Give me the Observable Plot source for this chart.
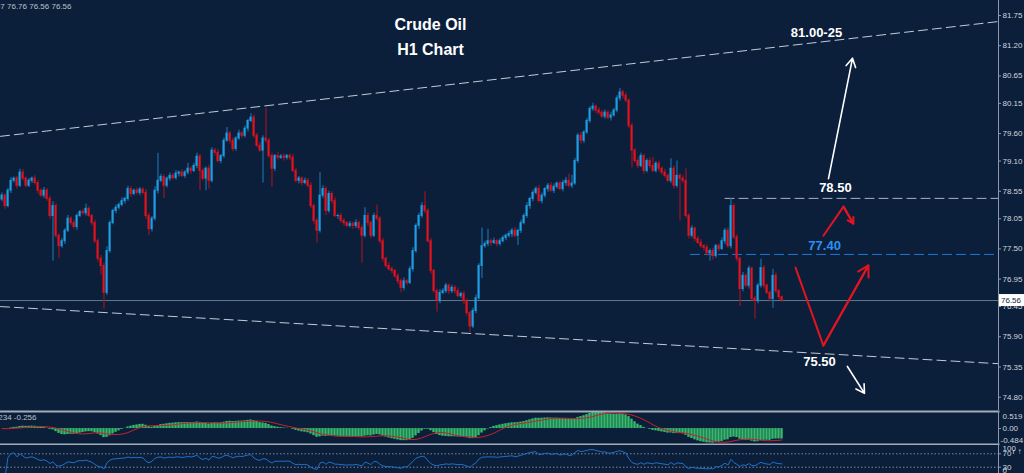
<!DOCTYPE html>
<html><head><meta charset="utf-8">
<script src="https://cdn.jsdelivr.net/npm/d3@7"></script>
<script src="https://cdn.jsdelivr.net/npm/@observablehq/plot@0.6"></script>
<style>
html,body{margin:0;padding:0;background:#0b1f3b;width:1024px;height:473px;overflow:hidden;}
#wrap{position:relative;width:1024px;height:473px;background:#0b1f3b;}
#wrap > svg{position:absolute;left:0;display:block;overflow:hidden;}
</style></head><body><div id="wrap"></div>
<script>
// ---------- DATA (H1 candles) ----------
const firstOpen = 78.40;
const closes = [
78.47,78.28,78.56,78.74,78.78,78.65,78.89,78.78,78.65,78.74,
78.78,78.70,78.56,78.47,78.56,78.41,78.10,78.28,77.74,77.55,
77.64,77.83,78.05,77.97,77.90,78.10,78.17,78.15,78.23,78.10,
77.97,77.64,77.32,77.19,76.70,77.46,77.97,78.19,78.25,78.30,
78.37,78.41,78.59,78.50,78.56,78.52,78.58,78.52,78.10,77.86,
78.05,78.56,78.74,78.81,78.65,78.78,78.83,78.79,78.87,78.89,
78.83,78.89,78.96,78.92,79.01,79.18,78.92,78.78,78.96,78.74,
79.29,79.25,79.10,79.19,79.47,79.60,79.47,79.32,79.51,79.60,
79.56,79.69,79.83,79.89,79.56,79.38,79.29,79.51,79.47,79.19,
78.96,79.19,79.16,79.18,79.16,79.19,79.16,78.92,78.74,78.78,
78.70,78.74,78.65,78.28,78.01,77.83,78.47,78.59,78.19,78.50,
78.37,78.10,78.10,78.01,77.97,77.92,77.95,77.92,77.97,77.88,
77.74,78.10,77.97,77.74,78.10,78.05,77.64,77.32,77.19,77.13,
77.10,77.00,76.91,76.79,76.91,76.88,77.13,77.46,77.92,78.10,
78.28,78.19,77.64,77.10,76.73,76.55,76.70,76.73,76.83,76.73,
76.79,76.73,76.64,76.68,76.55,76.33,76.09,76.37,76.60,77.19,
77.55,77.59,77.64,77.61,77.64,77.59,77.64,77.70,77.74,77.77,
77.83,77.74,77.83,77.97,78.10,78.28,78.41,78.52,78.59,78.37,
78.47,78.59,78.65,78.56,78.63,78.69,78.59,78.70,78.74,78.65,
78.69,79.10,79.56,79.47,79.62,79.83,80.05,80.09,80.02,79.98,
79.91,79.98,79.89,79.93,80.02,80.24,80.35,80.29,80.20,79.74,
79.29,79.10,79.01,79.19,78.92,79.10,79.01,78.92,79.05,78.96,
78.89,78.83,78.74,78.96,78.65,78.83,78.78,78.74,78.10,77.74,
77.87,77.68,77.61,77.55,77.52,77.42,77.46,77.37,77.55,77.50,
77.64,77.83,77.55,78.28,77.71,77.32,76.77,77.01,76.83,77.14,
76.59,76.55,76.83,77.15,76.83,76.70,76.59,77.01,76.73,76.62,
76.56];
const wickUp = [
0.05,0.03,0.04,0.06,0.03,0.04,0.06,0.05,0.03,0.04,
0.03,0.05,0.04,0.03,0.06,0.04,0.05,0.08,0.04,0.03,
0.05,0.04,0.06,0.03,0.05,0.04,0.03,0.05,0.09,0.04,
0.03,0.05,0.04,0.06,0.05,0.08,0.04,0.03,0.05,0.04,
0.06,0.03,0.05,0.04,0.03,0.05,0.04,0.03,0.06,0.05,
0.04,0.07,0.50,0.05,0.04,0.03,0.05,0.04,0.06,0.03,
0.05,0.04,0.10,0.03,0.05,0.06,0.04,0.05,0.03,0.06,
0.05,0.04,0.06,0.03,0.05,0.11,0.04,0.05,0.03,0.06,
0.04,0.05,0.03,0.07,0.05,0.04,0.06,0.05,0.55,0.04,
0.05,0.03,0.06,0.04,0.05,0.03,0.04,0.06,0.05,0.04,
0.03,0.05,0.04,0.06,0.04,0.05,0.42,0.06,0.04,0.05,
0.04,0.06,0.03,0.05,0.04,0.03,0.05,0.04,0.06,0.04,
0.05,0.15,0.06,0.04,0.05,0.20,0.04,0.05,0.03,0.06,
0.04,0.03,0.05,0.04,0.06,0.03,0.05,0.06,0.04,0.05,
0.06,0.26,0.04,0.05,0.03,0.04,0.06,0.05,0.04,0.03,
0.05,0.04,0.06,0.03,0.05,0.04,0.03,0.05,0.06,0.04,
0.33,0.05,0.22,0.04,0.06,0.03,0.05,0.04,0.03,0.05,
0.04,0.06,0.03,0.05,0.04,0.06,0.03,0.05,0.04,0.06,
0.05,0.03,0.04,0.06,0.05,0.03,0.04,0.05,0.06,0.12,
0.15,0.05,0.04,0.06,0.03,0.05,0.04,0.06,0.03,0.05,
0.04,0.05,0.03,0.06,0.04,0.05,0.07,0.04,0.05,0.03,
0.05,0.04,0.06,0.05,0.03,0.04,0.06,0.15,0.04,0.05,
0.03,0.06,0.04,0.18,0.05,0.27,0.04,0.05,0.22,0.04,
0.05,0.03,0.04,0.06,0.03,0.05,0.04,0.05,0.03,0.04,
0.06,0.04,0.05,0.14,0.04,0.05,0.03,0.06,0.04,0.05,
0.03,0.05,0.04,0.16,0.05,0.03,0.04,0.12,0.05,0.03,
0.02];
const wickDown = [
0.04,0.06,0.03,0.05,0.04,0.06,0.03,0.05,0.04,0.03,
0.05,0.04,0.06,0.03,0.05,0.04,0.06,0.82,0.05,0.22,
0.04,0.06,0.03,0.05,0.04,0.06,0.03,0.04,0.05,0.03,
0.05,0.04,0.06,0.16,0.30,0.05,0.04,0.03,0.05,0.04,
0.03,0.05,0.04,0.06,0.03,0.04,0.05,0.03,0.06,0.12,
0.05,0.04,0.06,0.03,0.23,0.04,0.05,0.03,0.04,0.06,
0.03,0.05,0.04,0.06,0.03,0.05,0.36,0.04,0.22,0.15,
0.04,0.06,0.03,0.05,0.04,0.03,0.06,0.05,0.04,0.03,
0.05,0.04,0.06,0.03,0.05,0.04,0.03,0.59,0.05,0.04,
0.33,0.05,0.04,0.03,0.06,0.04,0.05,0.03,0.04,0.06,
0.05,0.03,0.04,0.05,0.06,0.22,0.04,0.05,0.08,0.04,
0.05,0.03,0.06,0.04,0.05,0.03,0.04,0.06,0.05,0.04,
0.50,0.04,0.06,0.05,0.03,0.04,0.05,0.06,0.04,0.03,
0.05,0.04,0.06,0.09,0.05,0.04,0.03,0.05,0.04,0.06,
0.04,0.05,0.03,0.06,0.04,0.20,0.05,0.03,0.04,0.06,
0.04,0.05,0.03,0.04,0.06,0.05,0.11,0.04,0.05,0.03,
0.23,0.04,0.05,0.06,0.03,0.05,0.04,0.03,0.05,0.04,
0.06,0.04,0.18,0.05,0.03,0.04,0.06,0.05,0.04,0.03,
0.05,0.04,0.06,0.03,0.05,0.04,0.03,0.05,0.06,0.04,
0.05,0.03,0.04,0.06,0.05,0.03,0.04,0.05,0.06,0.04,
0.03,0.05,0.04,0.06,0.03,0.04,0.05,0.06,0.04,0.05,
0.31,0.04,0.05,0.03,0.06,0.04,0.05,0.03,0.04,0.06,
0.05,0.04,0.03,0.05,0.06,0.04,0.77,0.05,0.04,0.06,
0.04,0.05,0.03,0.04,0.06,0.05,0.14,0.07,0.04,0.05,
0.03,0.06,0.04,0.05,0.04,0.06,0.32,0.05,0.04,0.06,
0.04,0.33,0.05,0.04,0.06,0.03,0.05,0.17,0.04,0.05,
0.03];
const lastPrice = 76.56;
const priceTicks = [81.75,81.20,80.65,80.15,79.60,79.10,78.55,78.05,77.50,76.95,76.45,75.90,75.35,74.80];
const macdMax = 0.519, macdMin = -0.484;   // MACD window scale labels
const rsiLevels = [70, 30];
const ohlcText = "76.67 76.76 76.56 76.56";
const macdText = "MACD(12,26,9) -0.234 -0.256";
const titleLines = ["Crude Oil", "H1 Chart"];

// annotations (bar index, price)
const upperChannel = [{i:-0.5,p:79.55},{i:332.17,p:81.64}];
const lowerChannel = [{i:-0.5,p:76.45},{i:332.17,p:75.41}];
const level7850 = [{i:241,p:78.42},{i:332.17,p:78.42}];
const level7740 = [{i:229.5,p:77.40},{i:332.17,p:77.40}];
const whiteLabels = [{i:271.5,p:81.44,t:"81.00-25"},{i:277.8,p:78.61,t:"78.50"},{i:272.5,p:75.44,t:"75.50"}];
const blueLabels = [{i:274.2,p:77.56,t:"77.40"}];
const whiteArrows = [{i1:275.5,p1:78.78,i2:283.5,p2:80.97},{i1:281.8,p1:75.36,i2:287.5,p2:74.87}];
const redPathA = [{i:273.8,p:77.74},{i:280.5,p:78.27},{i:283.8,p:77.96}];
const redPathB = [{i:264.5,p:77.16},{i:273.8,p:75.74},{i:288.8,p:77.20}];

// ---------- derived ----------
const bars = closes.map((c,i)=>{
  const o = i ? closes[i-1] : firstOpen;
  return {i, o, c, h: Math.max(o,c)+wickUp[i], l: Math.min(o,c)-wickDown[i], up: c >= o};
});
const upBars = bars.filter(d=>d.up), dnBars = bars.filter(d=>!d.up);
// MACD(12,26,9): main = EMA12-EMA26, signal = SMA9 of main
const emaOf = (arr,n)=>{const k=2/(n+1); let e=arr[0]; return arr.map(v=>(e+=k*(v-e)));};
const e12 = emaOf(closes,12), e26 = emaOf(closes,26);
const macdMain = closes.map((_,i)=>e12[i]-e26[i]);
const macd = macdMain.map((m,i)=>({i, m, s: d3.mean(macdMain.slice(Math.max(0,i-8), i+1))}));
// RSI(14)
const diffs = closes.map((c,i)=> i ? c-closes[i-1] : 0);
let ag=0, al=0;
const rsi = [];
for (let i=1;i<closes.length;i++){
  const g=Math.max(diffs[i],0), l=Math.max(-diffs[i],0);
  if (i<=14){ ag=(ag*(i-1)+g)/i; al=(al*(i-1)+l)/i; }
  else { ag=(ag*13+g)/14; al=(al*13+l)/14; }
  rsi.push({i, r: al===0 ? 100 : 100-100/(1+ag/al)});
}

// ---------- drawing ----------
const W = 1024, MR = 26, XD = [-0.5, 332.17];
const FONT = "'Liberation Sans', Arial, sans-serif";
const TXT = "#cfd6df", AXC = "#8d99a8";
const baseStyle = {background:"transparent", color:TXT, fontFamily:FONT, fontSize:"8px", overflow:"hidden"};
const UPC="#1e9fe3", DNC="#e5121e", UPW="#1a6ea8", DNW="#9a1424";

const pricePlot = Plot.plot({
  width:W, height:410, marginLeft:0, marginRight:MR, marginTop:0, marginBottom:0,
  style: baseStyle,
  x:{domain:XD, axis:null},
  y:{domain:[74.558, 82.023], axis:null},
  marks:[
    Plot.line(upperChannel,{x:"i",y:"p",stroke:"#c3cbd5",strokeWidth:1,strokeDasharray:"9,5"}),
    Plot.line(lowerChannel,{x:"i",y:"p",stroke:"#c3cbd5",strokeWidth:1,strokeDasharray:"9,5"}),
    Plot.line(level7850,{x:"i",y:"p",stroke:"#aab3bf",strokeWidth:1,strokeDasharray:"9,5"}),
    Plot.line(level7740,{x:"i",y:"p",stroke:"#1f78d6",strokeWidth:1,strokeDasharray:"9,5"}),
    Plot.ruleY([lastPrice],{stroke:"#66778b",strokeWidth:1}),
    Plot.ruleX(upBars,{x:"i",y1:"l",y2:"h",stroke:UPW,strokeWidth:1.2}),
    Plot.ruleX(dnBars,{x:"i",y1:"l",y2:"h",stroke:DNW,strokeWidth:1.2}),
    Plot.rect(upBars,{x1:d=>d.i-0.34,x2:d=>d.i+0.34,y1:"o",y2:"c",fill:UPC,insetTop:-0.5,insetBottom:-0.5}),
    Plot.rect(dnBars,{x1:d=>d.i-0.34,x2:d=>d.i+0.34,y1:"o",y2:"c",fill:DNC,insetTop:-0.5,insetBottom:-0.5}),
    Plot.arrow(whiteArrows,{x1:"i1",y1:"p1",x2:"i2",y2:"p2",stroke:"#ffffff",strokeWidth:1.6,headLength:9}),
    Plot.line(redPathA,{x:"i",y:"p",stroke:"#e3141f",strokeWidth:2}),
    Plot.arrow([{a:redPathA[1],b:redPathA[2]}],{x1:d=>d.a.i,y1:d=>d.a.p,x2:d=>d.b.i,y2:d=>d.b.p,stroke:"#e3141f",strokeWidth:2,headLength:9}),
    Plot.line(redPathB,{x:"i",y:"p",stroke:"#e3141f",strokeWidth:2}),
    Plot.arrow([{a:redPathB[1],b:redPathB[2]}],{x1:d=>d.a.i,y1:d=>d.a.p,x2:d=>d.b.i,y2:d=>d.b.p,stroke:"#e3141f",strokeWidth:2,headLength:9}),
    Plot.text(whiteLabels,{x:"i",y:"p",text:"t",fill:"#ffffff",fontWeight:"bold",fontSize:13}),
    Plot.text(blueLabels,{x:"i",y:"p",text:"t",fill:"#2b8ff0",fontWeight:"bold",fontSize:13}),
    Plot.text([titleLines[0]],{frameAnchor:"top",dx:-69,dy:24,lineAnchor:"middle",fill:"#ffffff",fontWeight:"bold",fontSize:16}),
    Plot.text([titleLines[1]],{frameAnchor:"top",dx:-69,dy:49,lineAnchor:"middle",fill:"#ffffff",fontWeight:"bold",fontSize:16}),
    Plot.text([ohlcText],{frameAnchor:"top-left",textAnchor:"end",dx:71,dy:6,lineAnchor:"middle",fill:"#b9c1cc",fontSize:8}),
    Plot.frame({anchor:"right",stroke:AXC}),
    Plot.axisY(priceTicks,{anchor:"right",tickSize:2,tickPadding:2,tickFormat:d=>d.toFixed(2),stroke:AXC,fill:TXT})
  ]
});
pricePlot.style.top = "0px";

// current price label box on the axis (placed through the plot's y scale)
{
  const yy = pricePlot.scale("y").apply(lastPrice);
  const g = d3.select(pricePlot).append("g");
  g.append("rect").attr("x",999).attr("y",yy-6).attr("width",25).attr("height",12).attr("fill","#ffffff");
  g.append("text").attr("x",1001).attr("y",yy).attr("dy","0.35em").attr("text-anchor","start")
    .style("fill","#0b1f3b").attr("font-size","8px").attr("font-family",FONT).text(lastPrice.toFixed(2));
}

// MACD window: max value at top edge (local y 2), min at bottom edge (local y 33)
const macdPx = 31/(macdMax-macdMin);
const macdPlot = Plot.plot({
  width:W, height:35, marginLeft:0, marginRight:MR, marginTop:1, marginBottom:1,
  style: baseStyle,
  x:{domain:XD, axis:null},
  y:{domain:[macdMin-1/macdPx, macdMax+1/macdPx], axis:null},
  marks:[
    Plot.rectY(macd,{x1:d=>d.i-0.4,x2:d=>d.i+0.4,y1:0,y2:"m",fill:"#36ba6c"}),
    Plot.line(macd,{x:"i",y:"s",stroke:"#c4222c",strokeWidth:1}),
    Plot.text([macdText],{frameAnchor:"top-left",textAnchor:"end",dx:36,dy:6,lineAnchor:"middle",fill:"#b9c1cc",fontSize:8}),
    Plot.frame({anchor:"top",stroke:"#a3acb7",strokeWidth:2}),
    Plot.frame({anchor:"bottom",stroke:"#a3acb7",strokeWidth:2}),
    Plot.frame({anchor:"right",stroke:AXC}),
    Plot.axisY([0],{anchor:"right",tickSize:2,tickPadding:2,tickFormat:()=> "0.00",stroke:AXC,fill:TXT}),
    Plot.text([macdMax],{y:d=>d,frameAnchor:"right",text:d=>d.toFixed(3),textAnchor:"start",dx:4,dy:4,fill:TXT,fontSize:8}),
    Plot.text([macdMin],{y:d=>d,frameAnchor:"right",text:d=>d.toFixed(3),textAnchor:"start",dx:2,dy:-3,fill:TXT,fontSize:8})
  ]
});
macdPlot.style.top = "410px";

const rsiPlot = Plot.plot({
  width:W, height:28, marginLeft:0, marginRight:MR, marginTop:0, marginBottom:0,
  style: baseStyle,
  x:{domain:XD, axis:null},
  y:{domain:[11.2, 94.8], axis:null},
  marks:[
    Plot.ruleY(rsiLevels,{stroke:"#7d8998",strokeDasharray:"1.5,2"}),
    Plot.line(rsi,{x:"i",y:"r",stroke:"#1f6fc6",strokeWidth:1}),
    Plot.frame({anchor:"right",stroke:AXC}),
    Plot.axisY(rsiLevels,{anchor:"right",tickSize:2,tickPadding:2,stroke:AXC,fill:TXT}),
    Plot.text(["100"],{frameAnchor:"top-right",textAnchor:"start",dx:4,dy:3,lineAnchor:"middle",fill:TXT,fontSize:8}),
    Plot.text(["0"],{frameAnchor:"bottom-right",textAnchor:"start",dx:4,dy:-3,lineAnchor:"middle",fill:TXT,fontSize:8})
  ]
});
rsiPlot.style.top = "445px";

const wrap = document.getElementById("wrap");
wrap.append(pricePlot, macdPlot, rsiPlot);
</script></body></html>
